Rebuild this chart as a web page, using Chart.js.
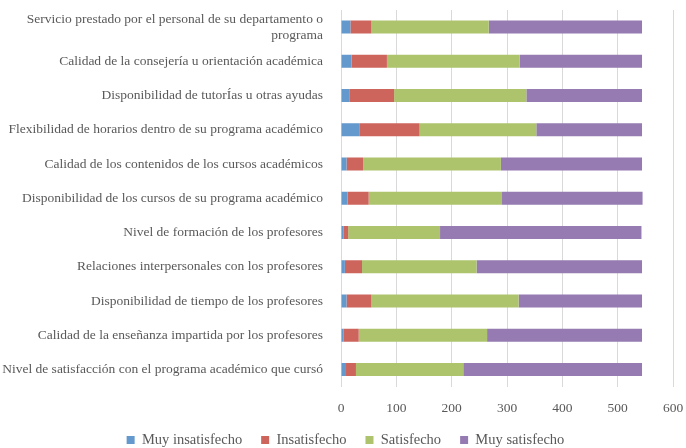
<!DOCTYPE html>
<html>
<head>
<meta charset="utf-8">
<script src="https://cdn.jsdelivr.net/npm/chart.js@4/dist/chart.umd.min.js"></script>
<style>
  html, body { margin: 0; padding: 0; background: #fff; }
  #wrap { width: 686px; height: 448px; position: relative; }
</style>
</head>
<body>
<div id="wrap"><canvas id="grafico"></canvas></div>
<script>
var categorias = [
	['Servicio prestado por el personal de su departamento o', 'programa'],
	'Calidad de la consejería u orientación académica',
	'Disponibilidad de tutorÍas u otras ayudas',
	'Flexibilidad de horarios dentro de su programa académico',
	'Calidad de los contenidos de los cursos académicos',
	'Disponibilidad de los cursos de su programa académico',
	'Nivel de formación de los profesores',
	'Relaciones interpersonales con los profesores',
	'Disponibilidad de tiempo de los profesores',
	'Calidad de la enseñanza impartida por los profesores',
	'Nivel de satisfacción con el programa académico que cursó'
];
var series = ['Muy insatisfecho', 'Insatisfecho', 'Satisfecho', 'Muy satisfecho'];
var muyInsatisfecho = [17, 19, 16, 33, 10, 12, 5, 7, 10, 5, 9];
var insatisfecho    = [38, 64, 80, 109, 30, 38, 8, 31, 45, 27, 18];
var satisfecho      = [212, 240, 239, 211, 249, 241, 166, 207, 266, 232, 194];
var muySatisfecho   = [277, 221, 209, 191, 255, 254, 364, 299, 223, 280, 323];
var ticksX = [0, 100, 200, 300, 400, 500, 600];

var cores = ['#6399cd', '#cd655c', '#adc46d', '#957bb1'];
var valores = [muyInsatisfecho, insatisfecho, satisfecho, muySatisfecho];

var fonte = { family: '"Liberation Serif", serif', size: 13.5 };
var fonteLegenda = { family: '"Liberation Serif", serif', size: 14.5 };

var datasets = series.map(function(nome, i) {
	return {
		label: nome,
		data: valores[i],
		backgroundColor: cores[i],
		borderWidth: 0,
		barPercentage: 0.38,
		categoryPercentage: 1
	};
});

// legenda com altura fixa e deslocada um pouco para a direita, como no original
var ajusteLegenda = {
	id: 'ajusteLegenda',
	beforeLayout: function(chart) {
		var legenda = chart.legend;
		if (!legenda || legenda._ajustada) return;
		var fitOriginal = legenda.fit;
		var drawOriginal = legenda.draw;
		legenda.fit = function() {
			fitOriginal.call(this);
			this.height = 34.3;
		};
		legenda.draw = function() {
			this.ctx.save();
			this.ctx.translate(9, 0);
			drawOriginal.apply(this, arguments);
			this.ctx.restore();
		};
		legenda._ajustada = true;
	}
};

new Chart(document.getElementById('grafico').getContext('2d'), {
	type: 'bar',
	data: { labels: categorias, datasets: datasets },
	plugins: [ajusteLegenda],
	options: {
		indexAxis: 'y',
		responsive: true,
		maintainAspectRatio: false,
		animation: false,
		layout: { padding: { top: 10, right: 13, bottom: 0, left: 0 } },
		scales: {
			x: {
				stacked: true,
				min: 0, max: 600,
				afterBuildTicks: function(scale) {
					scale.ticks = ticksX.map(function(v) { return { value: v }; });
				},
				afterFit: function(scale) {
					scale.height = 27.1;
					scale.paddingLeft = 0;
					scale.paddingRight = 0;
				},
				grid: { color: '#d9d9d9', lineWidth: 1, drawTicks: false },
				border: { display: false },
				ticks: { color: '#595959', font: fonte, padding: 14 }
			},
			y: {
				stacked: true,
				afterFit: function(scale) {
					scale.width = 341;
					scale.paddingTop = 0;
					scale.paddingBottom = 0;
				},
				grid: { display: false },
				border: { display: false },
				ticks: { color: '#595959', font: fonte, padding: 10, autoSkip: false }
			}
		},
		plugins: {
			legend: {
				position: 'bottom',
				labels: {
					color: '#595959',
					font: fonteLegenda,
					boxWidth: 8,
					boxHeight: 8,
					padding: 19
				}
			},
			tooltip: { enabled: false }
		}
	}
});
</script>
</body>
</html>
